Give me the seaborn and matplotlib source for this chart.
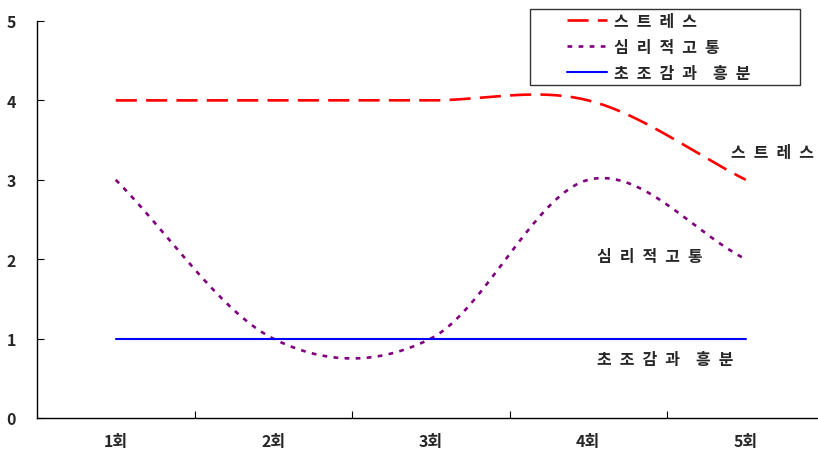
import numpy as np
import pandas as pd
import matplotlib
matplotlib.use("Agg")
import matplotlib.pyplot as plt
from matplotlib.lines import Line2D
from matplotlib.legend_handler import HandlerLine2D
import seaborn as sns

# Session labels and scores for each series
sessions = ["1회", "2회", "3회", "4회", "5회"]
stress = [4, 4, 4, 4, 3]
distress = [3, 1, 1, 3, 2]
agitation = [1, 1, 1, 1, 1]
series_names = ["스트레스", "심리적고통", "초조감과 흥분"]
y_ticks = [0, 1, 2, 3, 4, 5]

LABEL_SIZE = 11.5


def spaced(label):
    """Widen the letter spacing of a label with en spaces."""
    sp = "\u2002"
    return sp.join("" if ch == " " else ch for ch in label)


def smooth(values, steps=40):
    """Catmull-Rom smoothed curve through the given points (spreadsheet-style smoothed line)."""
    p = np.asarray(values, dtype=float)
    n = len(p)
    ext = np.concatenate([[2 * p[0] - p[1]], p, [2 * p[-1] - p[-2]]])
    xs, ys = [], []
    for i in range(n - 1):
        p0, p1, p2, p3 = ext[i], ext[i + 1], ext[i + 2], ext[i + 3]
        m1 = (p2 - p0) / 2
        m2 = (p3 - p1) / 2
        t = np.linspace(0, 1, steps, endpoint=(i == n - 2))
        h00 = 2 * t**3 - 3 * t**2 + 1
        h10 = t**3 - 2 * t**2 + t
        h01 = -2 * t**3 + 3 * t**2
        h11 = t**3 - t**2
        xs.append(i + t)
        ys.append(h00 * p1 + h10 * m1 + h01 * p2 + h11 * m2)
    return np.concatenate(xs), np.concatenate(ys)


class IndentedLine(HandlerLine2D):
    """Legend line sample drawn only in the right part of the handle box."""
    def get_xdata(self, legend, xdescent, ydescent, width, height, fontsize):
        x0 = -xdescent + width * 0.45
        x1 = -xdescent + width
        xd = np.array([x0, x1])
        return xd, xd


sns.set_theme(style="white")
plt.rcParams["font.family"] = ["Noto Sans CJK KR", "DejaVu Sans"]

fig = plt.figure(figsize=(8.18, 4.52), dpi=100)
ax = fig.add_axes([37 / 818, 33 / 452, 787.5 / 818, 397 / 452])

styles = [
    dict(color="#FF0000", linestyle=(0, (8, 3.5)), linewidth=1.9),
    dict(color="#800080", linestyle=(0, (1.8, 2.4)), linewidth=1.9),
    dict(color="#0000FF", linestyle="-", linewidth=1.5),
]

for vals, style in zip([stress, distress, agitation], styles):
    sx, sy = smooth(vals)
    df = pd.DataFrame({"x": sx, "y": sy})
    sns.lineplot(data=df, x="x", y="y", ax=ax, sort=False, estimator=None, **style)

ax.set_xlim(-0.5, len(sessions) - 0.5)
ax.set_ylim(0, 5)
ax.set_xlabel("")
ax.set_ylabel("")

ax.set_xticks(range(len(sessions)))
ax.set_xticklabels(sessions, fontsize=11.5, fontweight="bold")
ax.set_xticks(np.arange(0.5, len(sessions) - 1, 1.0), minor=True)
ax.tick_params(axis="x", which="major", length=0, pad=11)
ax.tick_params(axis="x", which="minor", direction="in", length=5, width=0.8, color="black", bottom=True)

ax.set_yticks(y_ticks)
ax.set_yticklabels([str(v) for v in y_ticks], fontsize=11.5, fontweight="bold")
ax.tick_params(axis="y", direction="in", length=5, width=0.8, color="black", pad=15, left=True)

for side in ["top", "right"]:
    ax.spines[side].set_visible(False)
for side in ["left", "bottom"]:
    ax.spines[side].set_color("black")
    ax.spines[side].set_linewidth(1.0)

# Legend
handles = [Line2D([0], [0], **s) for s in styles]
x0 = (530 - 37) / 787.5
y1 = (419 - 10) / 397
leg = ax.legend(handles, [spaced(s) for s in series_names], loc="upper left",
                bbox_to_anchor=(x0, y1 - 78 / 397, (800 - 530) / 787.5, 78 / 397),
                mode="expand", fontsize=LABEL_SIZE, frameon=True, fancybox=False,
                handlelength=4.6, handletextpad=0.4, borderpad=0.25,
                labelspacing=0.62, borderaxespad=0,
                handler_map={Line2D: IndentedLine()})
leg.get_frame().set_edgecolor("black")
leg.get_frame().set_linewidth(1.0)
for t in leg.get_texts():
    t.set_fontweight("bold")

# Series labels beside the curves
ax.text(4.17, 3.35, spaced(series_names[0]), ha="center", va="center", fontsize=LABEL_SIZE, fontweight="bold")
ax.text(3.39, 2.04, spaced(series_names[1]), ha="center", va="center", fontsize=LABEL_SIZE, fontweight="bold")
ax.text(3.49, 0.74, spaced(series_names[2]), ha="center", va="center", fontsize=LABEL_SIZE, fontweight="bold")

fig.savefig("out.png", dpi=100)
